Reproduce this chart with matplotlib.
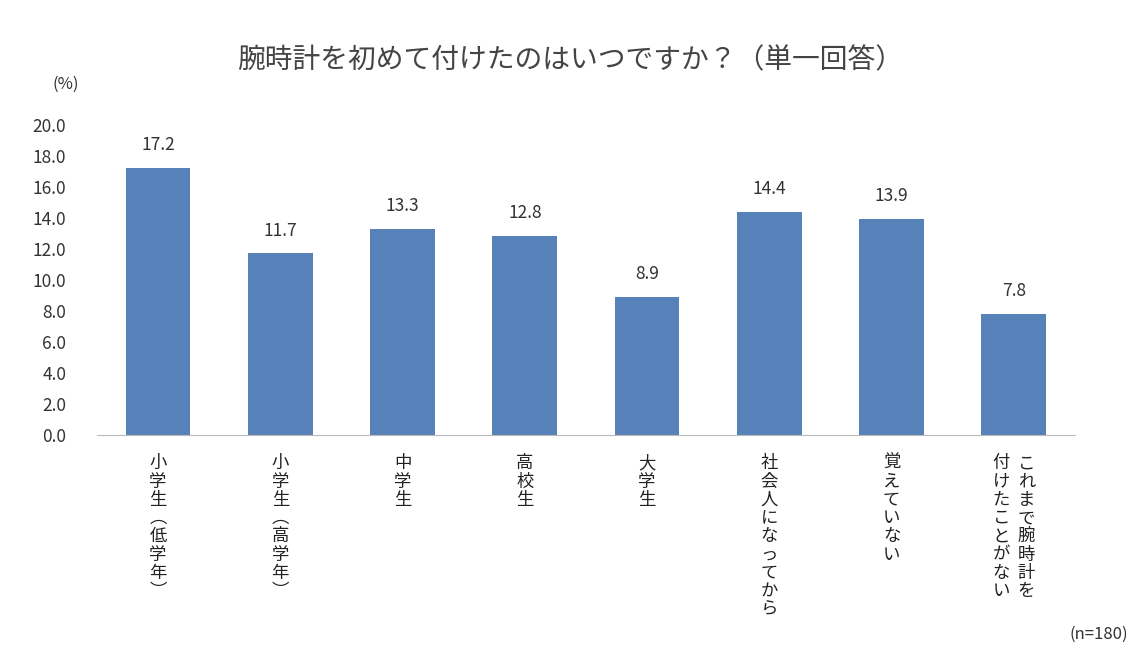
import matplotlib
matplotlib.use("Agg")
import matplotlib.pyplot as plt
from matplotlib.transforms import offset_copy

plt.rcParams['font.family'] = ['Noto Sans CJK JP', 'DejaVu Sans']

categories = ["小学生︵低学年︶", "小学生︵高学年︶", "中学生", "高校生", "大学生",
              "社会人になってから", "覚えていない", ["これまで腕時計を", "付けたことがない"]]
values = [17.2, 11.7, 13.3, 12.8, 8.9, 14.4, 13.9, 7.8]
yticks = [0, 2, 4, 6, 8, 10, 12, 14, 16, 18, 20]

fig = plt.figure(figsize=(11.4, 6.71), dpi=100)
ax = fig.add_axes([0.085, 0.352, 0.858, 0.462])
x = list(range(len(values)))
ax.bar(x, values, width=0.53, color='#5681B9')
for xi, v in zip(x, values):
    ax.text(xi, v + 0.9, f"{v:.1f}", ha='center', va='bottom', fontsize=12.5, color='#333333')
ax.set_ylim(0, 20)
ax.set_xlim(-0.5, len(values) - 0.5)
ax.set_yticks(yticks)
ax.set_yticklabels([f"{t:.1f}" for t in yticks], fontsize=12.5, color='#333333')
ax.set_xticks([])
for s in ['top', 'right', 'left']:
    ax.spines[s].set_visible(False)
ax.spines['bottom'].set_color('#BBBBBB')
ax.tick_params(axis='y', length=0, pad=22)

def vtext(xpos, s, dx=0):
    tr = offset_copy(ax.get_xaxis_transform(), fig=fig, x=dx, y=-14, units='points')
    ax.text(xpos, 0, "\n".join(s), transform=tr, ha='center', va='top',
            fontsize=12.5, linespacing=1.02, color='#222222')

for xi, c in zip(x, categories):
    if isinstance(c, list):
        vtext(xi, c[0], dx=9)
        vtext(xi, c[1], dx=-9)
    else:
        vtext(xi, c)

fig.text(0.5, 0.91, "腕時計を初めて付けたのはいつですか？（単一回答）", ha='center', va='center',
         fontsize=20, color='#444444')
fig.text(0.058, 0.875, "(%)", ha='center', va='center', fontsize=12, color='#333333')
fig.text(0.99, 0.055, "(n=180)", ha='right', va='center', fontsize=12, color='#333333')
fig.savefig("out.png", dpi=100)
